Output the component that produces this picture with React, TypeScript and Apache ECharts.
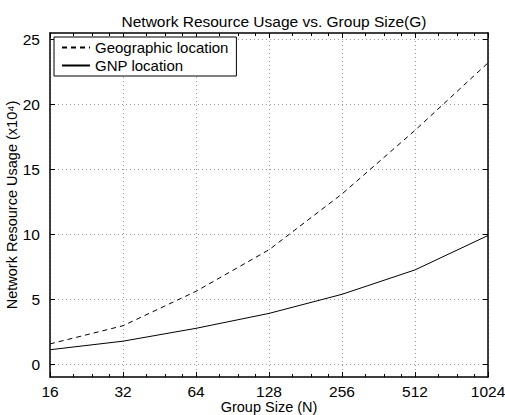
import React, { useEffect, useRef } from "react";
import * as echarts from "echarts";

const groupSizes = [16, 32, 64, 128, 256, 512, 1024];
const geographic = [1.55, 2.95, 5.6, 8.8, 13.1, 18.0, 23.2];
const gnp = [1.1, 1.76, 2.75, 3.9, 5.37, 7.25, 9.9];
const yTicks = [0, 5, 10, 15, 20, 25];
const xMinorTicks = [20, 24, 28, 40, 48, 56, 80, 96, 112, 160, 192, 224, 320, 384, 448, 640, 768, 896];

const FONT = "'Liberation Sans', Arial, Helvetica, sans-serif";

export default function App() {
  const ref = useRef<HTMLDivElement>(null);
  useEffect(() => {
    if (!ref.current) return;
    const chart = echarts.init(ref.current, null, { renderer: "svg" });
    const gridLine = { show: true, lineStyle: { color: "#9a9a9a", type: [1, 3], width: 1 } };
    const axisLine = { show: true, onZero: false, lineStyle: { color: "#000", width: 1.5 } };
    const noLine = { show: false, onZero: false };
    const xBase = { type: "log", logBase: 2, min: 16, max: 1024, gridIndex: 0 };
    const yBase = { type: "value", min: -1, max: 25.5, gridIndex: 0 };
    chart.setOption({
      animation: false,
      backgroundColor: "#fff",
      textStyle: { fontFamily: FONT, color: "#000" },
      title: {
        text: "Network Resource Usage vs. Group Size(G)",
        left: 269,
        top: 8,
        textAlign: "center",
        textStyle: { fontFamily: FONT, fontSize: 15.5, fontWeight: "normal", color: "#000" },
      },
      grid: { left: 50, right: 17, top: 33, bottom: 38, containLabel: false, outerBoundsMode: "none" },
      legend: {
        orient: "vertical",
        left: 54,
        top: 37,
        padding: [3, 8, 3, 7],
        itemWidth: 28,
        itemHeight: 14,
        itemGap: 3,
        backgroundColor: "#fff",
        borderColor: "#000",
        borderWidth: 1,
        borderRadius: 0,
        itemStyle: { opacity: 0 },
        textStyle: { fontFamily: FONT, fontSize: 15, color: "#000" },
        data: ["Geographic location", "GNP location"],
      },
      xAxis: [
        {
          ...xBase,
          position: "bottom",
          interval: 1,
          axisLine,
          axisTick: { show: true, inside: true, length: 5, lineStyle: { color: "#000", width: 1 } },
          axisLabel: {
            show: true,
            margin: 6,
            fontFamily: FONT,
            fontSize: 15.5,
            color: "#000",
            customValues: groupSizes,
            formatter: (v: number) => String(Math.round(v)),
          },
          splitLine: gridLine,
          name: "Group Size (N)",
          nameLocation: "middle",
          nameGap: 22,
          nameMoveOverlap: false,
          nameTextStyle: { fontFamily: FONT, fontSize: 14.5, color: "#000" },
        },
        {
          ...xBase,
          position: "top",
          interval: 1,
          axisLine,
          axisTick: { show: true, inside: true, length: 5, lineStyle: { color: "#000", width: 1 } },
          axisLabel: { show: false },
          splitLine: { show: false },
        },
        {
          ...xBase,
          position: "bottom",
          axisLine: noLine,
          axisTick: { show: true, inside: true, length: 3, customValues: xMinorTicks, lineStyle: { color: "#000", width: 1 } },
          axisLabel: { show: false },
          splitLine: { show: false },
        },
        {
          ...xBase,
          position: "top",
          axisLine: noLine,
          axisTick: { show: true, inside: true, length: 3, customValues: xMinorTicks, lineStyle: { color: "#000", width: 1 } },
          axisLabel: { show: false },
          splitLine: { show: false },
        },
      ],
      yAxis: [
        {
          ...yBase,
          position: "left",
          axisLine,
          axisTick: { show: true, inside: true, length: 5, customValues: yTicks, lineStyle: { color: "#000", width: 1 } },
          axisLabel: {
            show: true,
            margin: 10,
            fontFamily: FONT,
            fontSize: 15.5,
            color: "#000",
            customValues: yTicks,
          },
          splitLine: gridLine,
          name: "Network Resource Usage (x10⁴)",
          nameLocation: "middle",
          nameGap: 31,
          nameMoveOverlap: false,
          nameTextStyle: { fontFamily: FONT, fontSize: 14.5, color: "#000" },
        },
        {
          ...yBase,
          position: "right",
          axisLine,
          axisTick: { show: true, inside: true, length: 5, customValues: yTicks, lineStyle: { color: "#000", width: 1 } },
          axisLabel: { show: false },
          splitLine: { show: false },
        },
      ],
      series: [
        {
          name: "Geographic location",
          type: "line",
          xAxisIndex: 0,
          yAxisIndex: 0,
          symbol: "none",
          data: groupSizes.map((n, i) => [n, geographic[i]]),
          lineStyle: { color: "#000", width: 1, type: [5, 4] },
          itemStyle: { color: "#000" },
        },
        {
          name: "GNP location",
          type: "line",
          xAxisIndex: 0,
          yAxisIndex: 0,
          symbol: "none",
          data: groupSizes.map((n, i) => [n, gnp[i]]),
          lineStyle: { color: "#000", width: 1, type: "solid" },
          itemStyle: { color: "#000" },
        },
      ],
    });
    return () => chart.dispose();
  }, []);
  return <div ref={ref} style={{ width: 505, height: 415, position: "fixed", left: 0, top: 0 }} />;
}
